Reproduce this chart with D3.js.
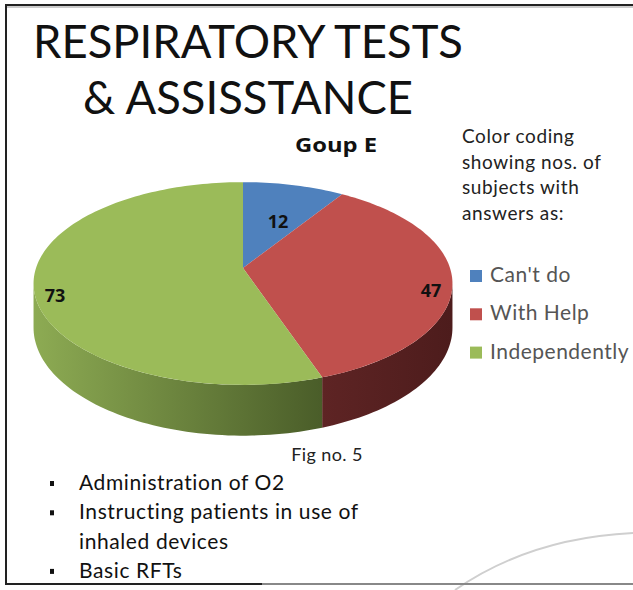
<!DOCTYPE html>
<html>
<head>
<meta charset="utf-8">
<script src="https://cdn.jsdelivr.net/npm/d3@7"></script>
<style>
  body { margin: 0; background: #fff; }
  svg { display: block; font-family: Lato, "Open Sans", sans-serif; }
  .bold { font-family: "Open Sans", sans-serif; font-weight: bold; }
</style>
</head>
<body>
<svg id="chart" width="633" height="590"></svg>
<script>
const categories = ["Can't do", "With Help", "Independently"];
const values = [12, 47, 73];
const sliceColors = ["#4f81bd", "#c0504d", "#9bbb59"];
const titleLines = ["RESPIRATORY TESTS", "& ASSISSTANCE"];
const groupName = "Goup E";
const legendNote = ["Color coding", "showing nos. of", "subjects with", "answers as:"];
const figCaption = "Fig no. 5";
const bulletItems = [["Administration of O2"], ["Instructing patients in use of", "inhaled devices"], ["Basic RFTs"]];

const svg = d3.select("#chart");
const defs = svg.append("defs");

// slide frame + faint background arc
svg.append("path")
    .attr("d", "M455,590 Q530,538 633,533")
    .attr("fill", "none")
    .attr("stroke", "#cfcfcf")
    .attr("stroke-width", 2);
svg.append("line").attr("x1", 5).attr("x2", 633).attr("y1", 5).attr("y2", 5)
    .attr("stroke", "#222").attr("stroke-width", 2);
svg.append("line").attr("x1", 5).attr("x2", 633).attr("y1", 7).attr("y2", 7)
    .attr("stroke", "#999").attr("stroke-width", 1);
svg.append("line").attr("x1", 6).attr("x2", 6).attr("y1", 4).attr("y2", 585)
    .attr("stroke", "#222").attr("stroke-width", 2);
svg.append("line").attr("x1", 5).attr("x2", 262).attr("y1", 584).attr("y2", 584)
    .attr("stroke", "#222").attr("stroke-width", 2);
svg.append("line").attr("x1", 262).attr("x2", 633).attr("y1", 584).attr("y2", 584)
    .attr("stroke", "#888").attr("stroke-width", 2);

// title
svg.selectAll("text.title")
    .data(titleLines)
    .enter().append("text")
    .attr("class", "title")
    .attr("x", 248)
    .attr("y", (d, i) => 58 + i * 56)
    .attr("text-anchor", "middle")
    .attr("textLength", (d, i) => i === 0 ? 430 : 330)
    .attr("lengthAdjust", "spacingAndGlyphs")
    .style("font-size", "47px")
    .attr("fill", "#111")
    .text(d => d);

svg.append("text")
    .attr("class", "bold")
    .attr("x", 336).attr("y", 152)
    .attr("text-anchor", "middle")
    .attr("textLength", 82).attr("lengthAdjust", "spacingAndGlyphs")
    .style("font-size", "19px")
    .attr("fill", "#111")
    .text(groupName);

// 3D pie
const cx = 243, cy = 268, rx = 207, ry = 99, persp = 0.153, depth = 43;

function project(angle, r, z) {
    const u = Math.sin(angle) * r, v = -Math.cos(angle) * r;
    const s = 1 / (1 - persp * v);
    return [cx + rx * u * s, cy + ry * v * s + z * depth * s];
}

function arcPoints(a0, a1, z) {
    const n = Math.max(2, Math.ceil(Math.abs(a1 - a0) * 40));
    return d3.range(n + 1).map(i => project(a0 + (a1 - a0) * i / n, 1, z));
}

const pie = d3.pie().sort(null).value(d => d);
const slices = pie(values);

const aRight = Math.acos(-persp);
const aLeft = 2 * Math.PI - aRight;

const sideGrad = [
    ["#4d1c1c", "#5e2424"],
    ["#4d1c1c", "#5e2424"],
    ["#8dab53", "#4a5d29"]
];

const sides = slices.map((d, i) => {
    const a0 = Math.max(d.startAngle, aRight), a1 = Math.min(d.endAngle, aLeft);
    return {i, a0, a1};
}).filter(d => d.a1 > d.a0);

sides.forEach(d => {
    const xa = project(d.a0, 1, 0)[0], xb = project(d.a1, 1, 0)[0];
    const g = defs.append("linearGradient")
        .attr("id", "side-" + d.i)
        .attr("gradientUnits", "userSpaceOnUse")
        .attr("x1", Math.min(xa, xb)).attr("x2", Math.max(xa, xb))
        .attr("y1", 0).attr("y2", 0);
    const c = sideGrad[d.i];
    g.append("stop").attr("offset", "0%").attr("stop-color", d.i === 2 ? c[0] : c[1]);
    g.append("stop").attr("offset", "100%").attr("stop-color", d.i === 2 ? c[1] : c[0]);
});

const line = d3.line();

svg.append("g").attr("class", "sides")
    .selectAll("path")
    .data(sides)
    .enter().append("path")
    .attr("d", d => line(arcPoints(d.a0, d.a1, 0).concat(arcPoints(d.a1, d.a0, 1))) + "Z")
    .attr("fill", d => "url(#side-" + d.i + ")");

svg.append("g").attr("class", "tops")
    .selectAll("path")
    .data(slices)
    .enter().append("path")
    .attr("d", d => line([[cx, cy]].concat(arcPoints(d.startAngle, d.endAngle, 0))) + "Z")
    .attr("fill", (d, i) => sliceColors[i]);

svg.append("g").attr("class", "labels")
    .selectAll("text")
    .data(slices)
    .enter().append("text")
    .attr("class", "bold")
    .attr("transform", d => {
        const mid = (d.startAngle + d.endAngle) / 2;
        const r = (d.endAngle - d.startAngle) < 0.8 ? 0.66 : 0.9;
        return "translate(" + project(mid, r, 0.28) + ")";
    })
    .attr("text-anchor", "middle")
    .attr("dy", "0.36em")
    .style("font-size", "18px")
    .attr("fill", "#111")
    .text(d => d.data);

// legend
svg.selectAll("text.note")
    .data(legendNote)
    .enter().append("text")
    .attr("class", "note")
    .attr("x", 462)
    .attr("y", (d, i) => 143 + i * 25.5)
    .style("font-size", "19px")
    .style("letter-spacing", "0.6px")
    .attr("fill", "#222")
    .text(d => d);

const legend = svg.append("g").attr("class", "legend")
    .selectAll("g")
    .data(categories)
    .enter().append("g")
    .attr("transform", (d, i) => "translate(470," + (270 + i * 38.3) + ")");

legend.append("rect")
    .attr("width", 12).attr("height", 12)
    .attr("fill", (d, i) => sliceColors[i]);

legend.append("text")
    .attr("x", 20).attr("y", 12)
    .style("font-size", "21px")
    .style("letter-spacing", "0.5px")
    .attr("fill", "#555")
    .text(d => d);

// caption & bullets
svg.append("text")
    .attr("x", 327).attr("y", 461)
    .attr("text-anchor", "middle")
    .style("font-size", "18px")
    .style("letter-spacing", "0.4px")
    .attr("fill", "#222")
    .text(figCaption);

let row = 0;
bulletItems.forEach(item => {
    svg.append("rect")
        .attr("x", 50).attr("y", 490 + row * 29.3 - 9)
        .attr("width", 4).attr("height", 5)
        .attr("fill", "#111");
    item.forEach(txt => {
        svg.append("text")
            .attr("x", 79).attr("y", 490 + row * 29.3)
            .style("font-size", "21px")
            .style("letter-spacing", "0.6px")
            .attr("fill", "#111")
            .text(txt);
        row++;
    });
});
</script>
</body>
</html>
